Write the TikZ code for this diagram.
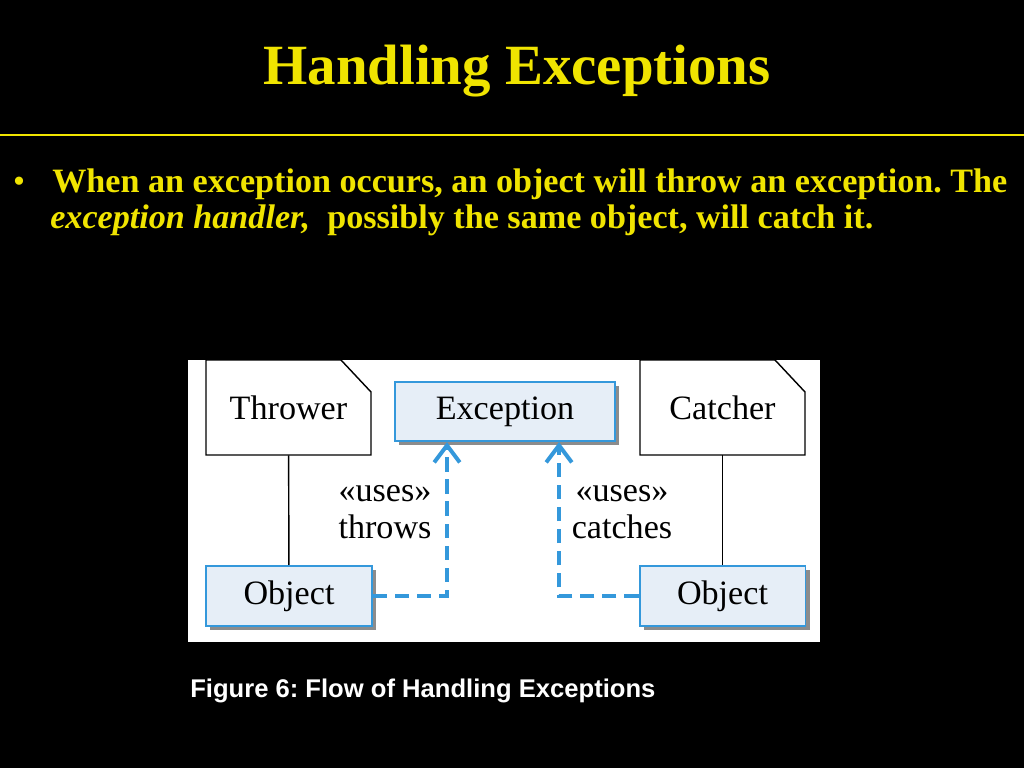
\documentclass[tikz,border=0pt]{standalone}
\usepackage{fontspec}
\setmainfont{Liberation Serif}
\setsansfont{Liberation Sans}
\usepackage{tikz}
\usetikzlibrary{arrows.meta,positioning,calc,shadows}
\definecolor{slideyellow}{RGB}{240,228,0}
\definecolor{umlblue}{RGB}{52,152,219}
\definecolor{umlfill}{RGB}{230,238,247}
\tikzstyle{notebox} = [rectangle, minimum width=116pt, minimum height=66.8pt, font=\fontsize{24}{26}\selectfont]
\tikzstyle{notefold} = [draw, fill=white, line width=1pt]
\tikzstyle{umlbox} = [rectangle, draw=umlblue, fill=umlfill, line width=1.4pt, drop shadow={shadow xshift=3pt, shadow yshift=-3pt, fill=black!45, opacity=1}, font=\fontsize{24}{26}\selectfont]
\tikzstyle{uses} = [draw=umlblue, line width=2.8pt, dash pattern=on 10pt off 5.5pt, -{Straight Barb[length=12pt, width=18pt, line width=2.8pt]}]
\tikzstyle{label} = [align=center, font=\fontsize{24}{26}\selectfont]
\frenchspacing

\begin{document}
\begin{tikzpicture}[x=0.703125pt, y=-0.703125pt]
    \useasboundingbox (0,0) rectangle (1024,768);
    \fill[black] (-4,-4) rectangle (1028,772);
    \node[anchor=base, inner sep=0, text=slideyellow, font=\fontsize{40}{48}\selectfont\bfseries] (title) at (517,85) {Handling Exceptions};
    \draw[slideyellow, line width=1.4pt] (0,135) -- (1024,135);
    \node[inner sep=0, text=slideyellow, font=\fontsize{24}{28}\selectfont] (dot) at (19,185) {\textbullet};
    \node[anchor=base west, inner sep=0, text=slideyellow, font=\fontsize{24}{28}\selectfont\bfseries] (line1) at (52,193) {When an exception occurs, an object will throw an exception. The};
    \node[anchor=base west, inner sep=0, text=slideyellow, font=\fontsize{24}{28}\selectfont\bfseries\itshape] (line2a) at (50,229) {exception handler,};
    \node[anchor=base west, inner sep=0, text=slideyellow, font=\fontsize{24}{28}\selectfont\bfseries] (line2b) at (327,229) {possibly the same object, will catch it.};
    % figure
    \fill[white] (188,360) rectangle (820,642);
    \foreach \n/\x/\t in {thrower/288.5/Thrower, catcher/722.5/Catcher} {
        \draw[notefold] (\x-82.5,455) -- (\x-82.5,360) -- (\x+52.5,360) -- (\x+82.5,392) -- (\x+82.5,455) -- cycle;
        \node[notebox] (\n) at (\x,407.5) {\raisebox{-2pt}{\t}};
    }
    \node[umlbox, minimum width=154.7pt, minimum height=41.5pt] (exc) at (505,411.5) {\raisebox{-1.5pt}{Exception}};
    \node[umlbox, minimum width=116.7pt, minimum height=42.2pt] (objL) at (289,596) {\raisebox{-2pt}{Object}};
    \node[umlbox, minimum width=116.7pt, minimum height=42.2pt] (objR) at (722.5,596) {\raisebox{-2pt}{Object}};
    \draw[line width=1pt] (thrower) -- (objL);
    \draw[line width=1pt] (catcher) -- (objR);
    \draw[uses] (objL.east) -| ($(exc.south west)+(53,0)$);
    \draw[uses] (objR.west) -| ($(exc.south east)+(-57,0)$);
    \node[label] (throws) at (385,512) {«uses»\\throws};
    \node[label] (catches) at (622,512) {«uses»\\catches};
    \node[anchor=base west, inner sep=0, text=white, font=\sffamily\bfseries\fontsize{18}{21}\selectfont] (caption) at (190,697) {Figure 6: Flow of Handling Exceptions};
\end{tikzpicture}
\end{document}
